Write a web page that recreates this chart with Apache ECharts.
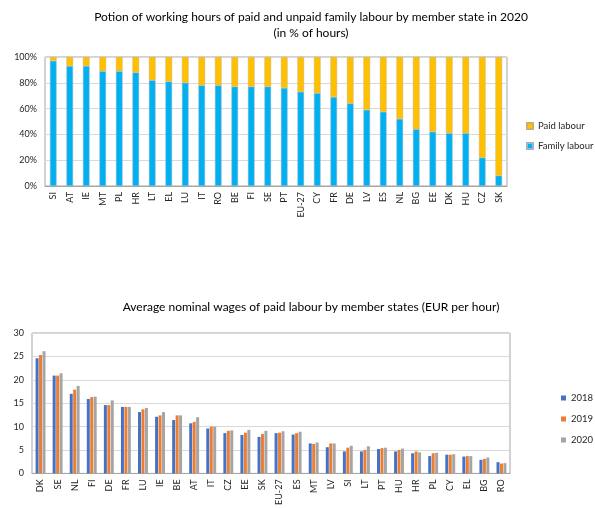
<!DOCTYPE html>
<html>
<head>
<meta charset="utf-8">
<script src="https://cdn.jsdelivr.net/npm/echarts@6/dist/echarts.min.js"></script>
<style>
  html, body { margin: 0; padding: 0; background: #fff; }
  #chart { width: 595px; height: 508px; }
</style>
</head>
<body>
<div id="chart"></div>
<script>
// Share of working hours by member state, 2020 (%)
const shareCountries = ['SI','AT','IE','MT','PL','HR','LT','EL','LU','IT','RO','BE','FI','SE','PT','EU-27','CY','FR','DE','LV','ES','NL','BG','EE','DK','HU','CZ','SK'];
const familyLabour = [97, 93, 93, 89, 89, 88, 82, 81, 80, 78, 78, 77, 77, 77, 76, 73, 72, 69, 64, 59, 57.5, 52, 44, 42, 41, 41, 22, 8];
const paidLabour   = [3, 7, 7, 11, 11, 12, 18, 19, 20, 22, 22, 23, 23, 23, 24, 27, 28, 31, 36, 41, 42.5, 48, 56, 58, 59, 59, 78, 92];
const shareTicks = [0, 20, 40, 60, 80, 100];

// Average nominal wages of paid labour (EUR per hour)
const wageCountries = ['DK','SE','NL','FI','DE','FR','LU','IE','BE','AT','IT','CZ','EE','SK','EU-27','ES','MT','LV','SI','LT','PT','HU','HR','PL','CY','EL','BG','RO'];
const wages2018 = [24.6, 20.9, 17.0, 15.9, 14.6, 14.2, 13.1, 12.1, 11.4, 10.7, 9.6, 8.6, 8.2, 7.8, 8.6, 8.3, 6.4, 5.6, 4.7, 4.7, 5.2, 4.7, 4.3, 3.7, 4.0, 3.6, 2.9, 2.4];
const wages2019 = [25.3, 20.9, 17.9, 16.3, 14.6, 14.2, 13.7, 12.4, 12.4, 11.0, 10.0, 9.1, 8.7, 8.4, 8.7, 8.6, 6.3, 6.4, 5.5, 5.0, 5.4, 5.0, 4.7, 4.3, 4.0, 3.7, 3.1, 2.1];
const wages2020 = [26.1, 21.4, 18.7, 16.4, 15.6, 14.2, 14.0, 13.1, 12.4, 12.0, 10.0, 9.2, 9.3, 9.1, 9.0, 8.9, 6.6, 6.4, 5.9, 5.8, 5.5, 5.3, 4.5, 4.4, 4.1, 3.7, 3.4, 2.2];
const wageTicks = [0, 5, 10, 15, 20, 25, 30];

const FONT = 'Lato, "Liberation Sans", sans-serif';
const GRID_LINE = '#d9d9d9';
const AXIS_LINE = '#a6a6a6';
const LABEL = '#262626';

const chart = echarts.init(document.getElementById('chart'), null, { renderer: 'canvas' });

chart.setOption({
  animation: false,
  textStyle: { fontFamily: FONT },
  title: [
    {
      text: 'Potion of working hours of paid and unpaid family labour by member state in 2020\n(in % of hours)',
      left: 306, top: 4, textAlign: 'center',
      textStyle: { fontFamily: FONT, fontSize: 12, fontWeight: 'normal', color: '#000', lineHeight: 16 }
    },
    {
      text: 'Average nominal wages of paid labour by member states (EUR per hour)',
      left: 306, top: 296, textAlign: 'center',
      textStyle: { fontFamily: FONT, fontSize: 12, fontWeight: 'normal', color: '#000' }
    }
  ],
  legend: [
    {
      data: ['Paid labour', 'Family labour'],
      orient: 'vertical', left: 526, top: 121, itemGap: 10, padding: 0,
      itemWidth: 6, itemHeight: 6, icon: 'rect',
      textStyle: { fontFamily: FONT, fontSize: 9.5, color: LABEL }
    },
    {
      data: ['2018', '2019', '2020'],
      orient: 'vertical', left: 561, top: 393, itemGap: 11, padding: 0,
      itemWidth: 5, itemHeight: 5, icon: 'rect',
      textStyle: { fontFamily: FONT, fontSize: 9.5, color: LABEL }
    }
  ],
  grid: [
    { left: 45, right: 88, top: 57, height: 129, show: true, borderColor: AXIS_LINE, borderWidth: 1 },
    { left: 32, right: 85, top: 333, height: 144, show: true, borderColor: AXIS_LINE, borderWidth: 1 }
  ],
  xAxis: [
    {
      gridIndex: 0, type: 'category', data: shareCountries,
      axisLine: { lineStyle: { color: AXIS_LINE } }, axisTick: { show: false },
      axisLabel: { rotate: 90, fontSize: 9, color: LABEL, margin: 6, interval: 0, fontFamily: FONT }
    },
    {
      gridIndex: 1, type: 'category', data: wageCountries,
      axisLine: { lineStyle: { color: AXIS_LINE } }, axisTick: { show: false },
      axisLabel: { rotate: 90, fontSize: 9, color: LABEL, margin: 6, interval: 0, fontFamily: FONT }
    }
  ],
  yAxis: [
    {
      gridIndex: 0, type: 'value',
      min: shareTicks[0], max: shareTicks[shareTicks.length - 1], interval: shareTicks[1] - shareTicks[0],
      axisLine: { show: false }, axisTick: { show: false },
      splitLine: { lineStyle: { color: GRID_LINE } },
      axisLabel: { formatter: '{value}%', fontSize: 9, color: LABEL, margin: 8, fontFamily: FONT }
    },
    {
      gridIndex: 1, type: 'value',
      min: wageTicks[0], max: wageTicks[wageTicks.length - 1], interval: wageTicks[1] - wageTicks[0],
      axisLine: { show: false }, axisTick: { show: false },
      splitLine: { lineStyle: { color: GRID_LINE } },
      axisLabel: { fontSize: 9, color: LABEL, margin: 8, fontFamily: FONT }
    }
  ],
  series: [
    {
      name: 'Family labour', type: 'bar', stack: 'share', xAxisIndex: 0, yAxisIndex: 0,
      data: familyLabour, barWidth: '40%',
      itemStyle: { color: '#00B0F0', borderColor: '#9fb6c4', borderWidth: 0.5 }
    },
    {
      name: 'Paid labour', type: 'bar', stack: 'share', xAxisIndex: 0, yAxisIndex: 0,
      data: paidLabour, barWidth: '40%',
      itemStyle: { color: '#FFC000', borderColor: '#c8b078', borderWidth: 0.5 }
    },
    {
      name: '2018', type: 'bar', xAxisIndex: 1, yAxisIndex: 1,
      data: wages2018, barWidth: 3, barGap: '15%',
      itemStyle: { color: '#4472C4' }
    },
    {
      name: '2019', type: 'bar', xAxisIndex: 1, yAxisIndex: 1,
      data: wages2019, barWidth: 3, barGap: '15%',
      itemStyle: { color: '#ED7D31' }
    },
    {
      name: '2020', type: 'bar', xAxisIndex: 1, yAxisIndex: 1,
      data: wages2020, barWidth: 3, barGap: '15%',
      itemStyle: { color: '#A5A5A5' }
    }
  ]
});
</script>
</body>
</html>
